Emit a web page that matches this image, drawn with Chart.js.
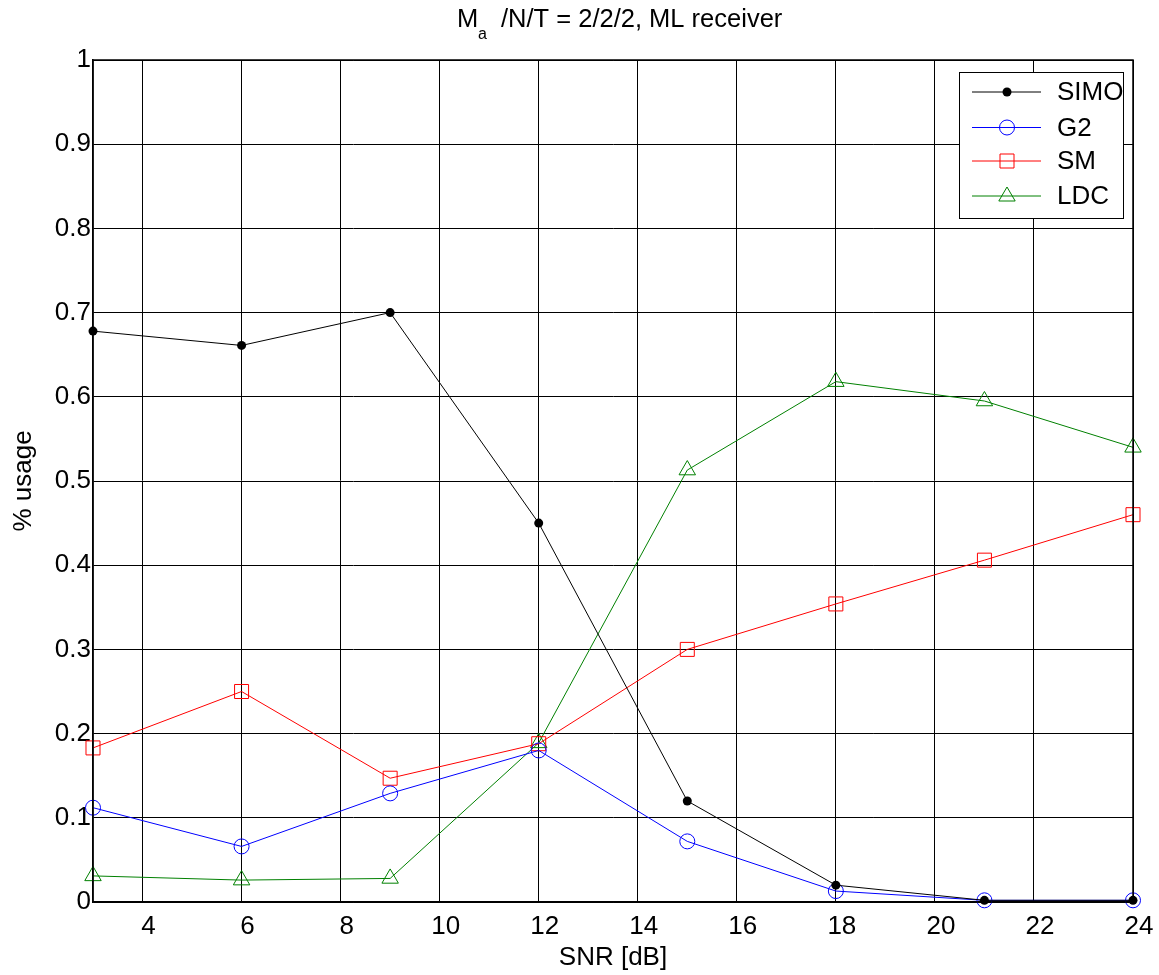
<!DOCTYPE html>
<html>
<head>
<meta charset="utf-8">
<script src="https://cdn.jsdelivr.net/npm/chart.js@4.4.0/dist/chart.umd.min.js"></script>
<style>
  body { margin: 0; background: #fff; }
</style>
</head>
<body>
<canvas id="chart1" width="1159" height="975"></canvas>
<script>
// values
const snr = [3, 6, 9, 12, 15, 18, 21, 24];
const simoUsage = [0.678, 0.661, 0.700, 0.450, 0.120, 0.020, 0.002, 0.002];
const g2Usage   = [0.112, 0.066, 0.129, 0.180, 0.072, 0.013, 0.002, 0.002];
const smUsage   = [0.183, 0.250, 0.147, 0.188, 0.300, 0.354, 0.406, 0.460];
const ldcUsage  = [0.031, 0.026, 0.028, 0.189, 0.513, 0.618, 0.595, 0.540];

const xTicks = [4, 6, 8, 10, 12, 14, 16, 18, 20, 22, 24];
const yTicks = [0, 0.1, 0.2, 0.3, 0.4, 0.5, 0.6, 0.7, 0.8, 0.9, 1];

const seriesNames = ['SIMO', 'G2', 'SM', 'LDC'];
const FONT = '"Liberation Sans", Arial, sans-serif';

function toPoints(values) {
    return values.map((v, i) => ({ x: snr[i], y: v }));
}

// marker drawing for the legend box (same look as the plotted points)
function drawMarker(ctx, style, x, y, color) {
    ctx.save();
    ctx.strokeStyle = color;
    ctx.fillStyle = color;
    ctx.lineWidth = 1;
    ctx.beginPath();
    if (style === 'dot') {
        ctx.arc(x, y, 4.5, 0, Math.PI * 2);
        ctx.fill();
    } else if (style === 'circle') {
        ctx.arc(x, y, 7.5, 0, Math.PI * 2);
        ctx.stroke();
    } else if (style === 'rect') {
        ctx.rect(x - 7, y - 7, 14, 14);
        ctx.stroke();
    } else if (style === 'triangle') {
        ctx.moveTo(x, y - 9);
        ctx.lineTo(x + 8.2, y + 5);
        ctx.lineTo(x - 8.2, y + 5);
        ctx.closePath();
        ctx.stroke();
    }
    ctx.restore();
}

const legendStyles = ['dot', 'circle', 'rect', 'triangle'];

// title with subscript a
const titlePlugin = {
    id: 'subTitle',
    afterDraw(chart) {
        const ctx = chart.ctx;
        ctx.save();
        ctx.fillStyle = '#000';
        ctx.textBaseline = 'alphabetic';
        ctx.textAlign = 'left';
        ctx.font = '25.5px ' + FONT;
        ctx.fillText('M', 457, 27);
        ctx.font = '16px ' + FONT;
        ctx.fillText('a', 478, 39);
        ctx.font = '25.5px ' + FONT;
        ctx.fillText('/N/T = 2/2/2, ML receiver', 501, 27);
        ctx.restore();
    }
};

const framePlugin = {
    id: 'frame',
    afterDatasetsDraw(chart) {
        const a = chart.chartArea;
        const ctx = chart.ctx;
        ctx.save();
        ctx.strokeStyle = '#000';
        ctx.lineWidth = 1.5;
        ctx.strokeRect(a.left, a.top, a.right - a.left, a.bottom - a.top);
        ctx.restore();
    }
};

const legendPlugin = {
    id: 'boxLegend',
    afterDraw(chart) {
        const ctx = chart.ctx;
        ctx.save();
        ctx.fillStyle = '#fff';
        ctx.fillRect(959, 72, 164, 146);
        ctx.strokeStyle = '#000';
        ctx.lineWidth = 1;
        ctx.strokeRect(959.5, 72.5, 164, 146);
        const rows = [92, 127.5, 161, 196];
        chart.data.datasets.forEach((ds, i) => {
            const y = rows[i];
            ctx.strokeStyle = ds.borderColor;
            ctx.lineWidth = 1;
            ctx.beginPath();
            ctx.moveTo(972, y);
            ctx.lineTo(1041, y);
            ctx.stroke();
            drawMarker(ctx, legendStyles[i], 1007, y, ds.borderColor);
            ctx.fillStyle = '#000';
            ctx.font = '26px ' + FONT;
            ctx.textAlign = 'left';
            ctx.textBaseline = 'middle';
            ctx.fillText(ds.label, 1057, y + 1);
        });
        ctx.restore();
    }
};

const data = {
    datasets: [
        {
            label: seriesNames[0],
            data: toPoints(simoUsage),
            borderColor: '#000000',
            backgroundColor: '#000000',
            borderWidth: 1,
            pointStyle: 'circle',
            pointRadius: 4.5,
            pointBorderWidth: 0,
            pointBackgroundColor: '#000000'
        },
        {
            label: seriesNames[1],
            data: toPoints(g2Usage),
            borderColor: '#0000ff',
            backgroundColor: 'rgba(0,0,0,0)',
            borderWidth: 1,
            pointStyle: 'circle',
            pointRadius: 7.5,
            pointBorderWidth: 1,
            pointBackgroundColor: 'rgba(0,0,0,0)'
        },
        {
            label: seriesNames[2],
            data: toPoints(smUsage),
            borderColor: '#ff0000',
            backgroundColor: 'rgba(0,0,0,0)',
            borderWidth: 1,
            pointStyle: 'rect',
            pointRadius: 9.9,
            pointBorderWidth: 1,
            pointBackgroundColor: 'rgba(0,0,0,0)'
        },
        {
            label: seriesNames[3],
            data: toPoints(ldcUsage),
            borderColor: '#008000',
            backgroundColor: 'rgba(0,0,0,0)',
            borderWidth: 1,
            pointStyle: 'triangle',
            pointRadius: 9.5,
            pointBorderWidth: 1,
            pointBackgroundColor: 'rgba(0,0,0,0)'
        }
    ]
};

const config = {
    type: 'line',
    data: data,
    options: {
        responsive: false,
        animation: false,
        events: [],
        layout: {
            padding: { top: 60, right: 26, left: 0, bottom: 0 }
        },
        datasets: {
            line: { clip: false, tension: 0, fill: false }
        },
        plugins: {
            legend: { display: false },
            tooltip: { enabled: false },
            title: { display: false }
        },
        scales: {
            x: {
                type: 'linear',
                min: 3,
                max: 24,
                afterBuildTicks: (scale) => {
                    scale.ticks = xTicks.map(v => ({ value: v }));
                },
                afterFit: (scale) => {
                    scale.height = 73;
                },
                grid: { color: '#000', lineWidth: 1, drawTicks: false },
                border: { display: true, color: '#000', width: 1.5 },
                ticks: {
                    color: '#000',
                    padding: 9,
                    labelOffset: 6,
                    maxRotation: 0,
                    autoSkip: false,
                    font: { family: FONT, size: 26 }
                },
                title: {
                    display: true,
                    text: 'SNR [dB]',
                    color: '#000',
                    padding: { top: 0, bottom: 2 },
                    font: { family: FONT, size: 26 }
                }
            },
            y: {
                type: 'linear',
                min: 0,
                max: 1,
                afterBuildTicks: (scale) => {
                    scale.ticks = yTicks.map(v => ({ value: v }));
                },
                afterFit: (scale) => {
                    scale.width = 93;
                },
                grid: { color: '#000', lineWidth: 1, drawTicks: false },
                border: { display: true, color: '#000', width: 1.5 },
                ticks: {
                    color: '#000',
                    padding: 2,
                    autoSkip: false,
                    font: { family: FONT, size: 26 },
                    callback: (v) => String(+Number(v).toFixed(1))
                },
                title: {
                    display: true,
                    text: '% usage',
                    color: '#000',
                    padding: { top: 8, bottom: 0 },
                    font: { family: FONT, size: 26 }
                }
            }
        }
    },
    plugins: [framePlugin, legendPlugin, titlePlugin]
};

const chart1 = new Chart(document.getElementById('chart1'), config);
</script>
</body>
</html>
